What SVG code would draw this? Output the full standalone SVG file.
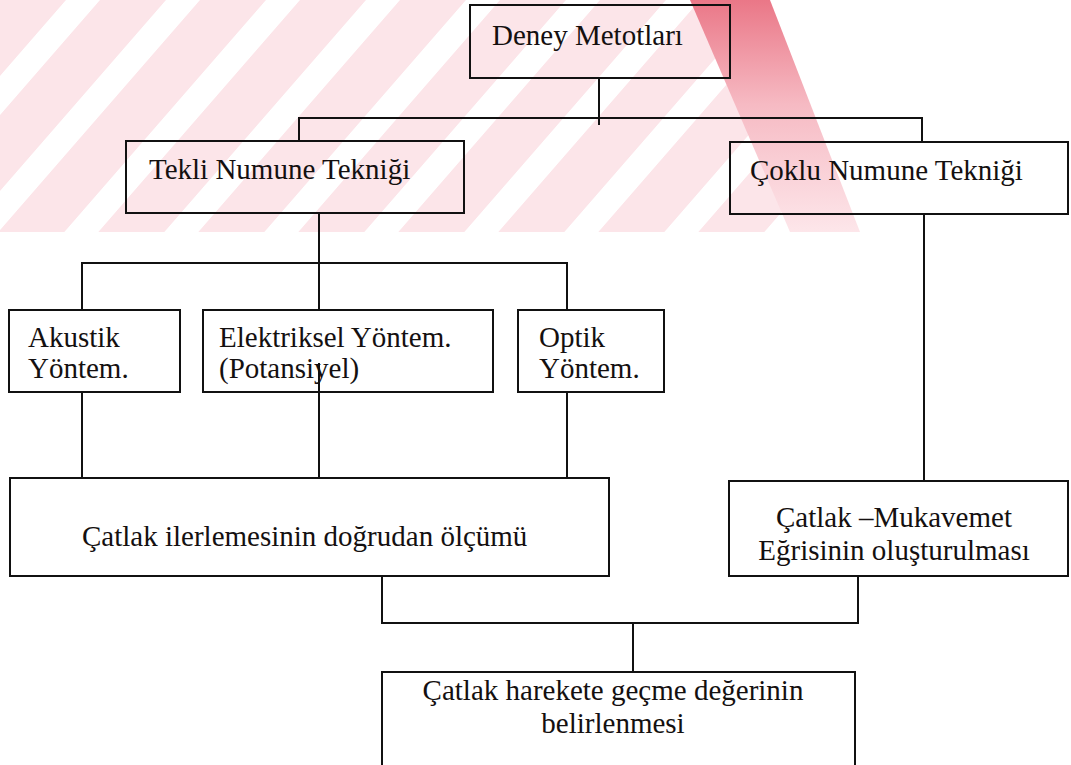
<svg xmlns="http://www.w3.org/2000/svg" width="1071" height="765" viewBox="0 0 1071 765">
<style>
.box{fill:none;stroke:#111;stroke-width:2}
.ln{fill:none;stroke:#111;stroke-width:2}
.t{font-family:"Liberation Serif","Times New Roman",serif;font-size:29px;fill:#141010}
.c{text-anchor:middle}
</style>
<defs>
<pattern id="stripes" patternUnits="userSpaceOnUse" width="100" height="800" patternTransform="skewX(-41)">
<rect x="0" y="0" width="66" height="800" fill="#fce5e9"/>
</pattern>
<linearGradient id="redband" x1="0" y1="0" x2="0" y2="1">
<stop offset="0" stop-color="#ea7787"/>
<stop offset="0.45" stop-color="#f6bac3"/>
<stop offset="1" stop-color="#fde6ea"/>
</linearGradient>
</defs>
<rect width="1071" height="765" fill="#ffffff"/>
<g id="watermark">
<polygon points="0,0 700,0 790,232 0,232" fill="url(#stripes)"/>
<polygon points="690,0 770,0 860,232 790,232" fill="url(#redband)"/>
</g>
<g id="connectors">
<path class="ln" d="M599,78 V125 M299,141 V118 H922 V142"/>
<path class="ln" d="M319,213 V310 M82,310 V263 H567 V310"/>
<path class="ln" d="M82,392 V478 M319,363 V478 M567,392 V478"/>
<path class="ln" d="M924,214 V481"/>
<path class="ln" d="M382,576 V623 H858 V576 M633,623 V672"/>
</g>
<g id="deney">
<rect class="box" x="470" y="5" width="260" height="73"/>
<text class="t" x="492" y="45">Deney Metotları</text>
</g>
<g id="tekli">
<rect class="box" x="126" y="141" width="338" height="72"/>
<text class="t" x="149" y="179">Tekli Numune Tekniği</text>
</g>
<g id="coklu">
<rect class="box" x="730" y="142" width="338" height="72"/>
<text class="t" x="750" y="180">Çoklu Numune Tekniği</text>
</g>
<g id="akustik">
<rect class="box" x="9" y="310" width="171" height="82"/>
<text class="t" x="28" y="347">Akustik</text>
<text class="t" x="28" y="378">Yöntem.</text>
</g>
<g id="elektriksel">
<rect class="box" x="203" y="310" width="290" height="82"/>
<text class="t" x="219" y="347">Elektriksel Yöntem.</text>
<text class="t" x="219" y="378">(Potansiyel)</text>
</g>
<g id="optik">
<rect class="box" x="518" y="310" width="146" height="82"/>
<text class="t" x="539" y="347">Optik</text>
<text class="t" x="539" y="378">Yöntem.</text>
</g>
<g id="dogrudan">
<rect class="box" x="10" y="478" width="599" height="98"/>
<text class="t" x="82" y="546">Çatlak ilerlemesinin doğrudan ölçümü</text>
</g>
<g id="mukavemet">
<rect class="box" x="729" y="481" width="339" height="95"/>
<text class="t c" x="894" y="527">Çatlak –Mukavemet</text>
<text class="t c" x="894" y="560">Eğrisinin oluşturulması</text>
</g>
<g id="belirlenmesi">
<rect class="box" x="382" y="672" width="473" height="110"/>
<text class="t c" x="613" y="700">Çatlak harekete geçme değerinin</text>
<text class="t c" x="613" y="733">belirlenmesi</text>
</g>
</svg>
